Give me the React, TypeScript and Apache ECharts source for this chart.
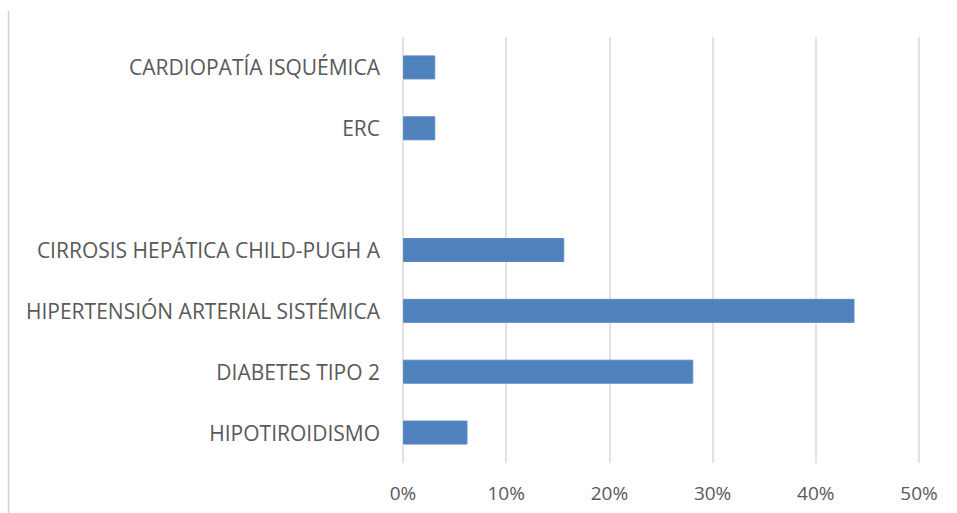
import React, { useEffect, useRef } from "react";
import * as echarts from "echarts";

// Comorbidities, listed bottom to top as the category axis stacks them
const categories = [
  "HIPOTIROIDISMO",
  "DIABETES TIPO 2",
  "HIPERTENSIÓN ARTERIAL SISTÉMICA",
  "CIRROSIS HEPÁTICA CHILD-PUGH A",
  "",
  "ERC",
  "CARDIOPATÍA ISQUÉMICA",
];

// Share of patients (%) per comorbidity; the blank row has no bar
const percentages: (number | null)[] = [6.25, 28.125, 43.75, 15.625, null, 3.125, 3.125];

const xTicks = { min: 0, max: 50, interval: 10 };

export default function App() {
  const ref = useRef<HTMLDivElement>(null);

  useEffect(() => {
    if (!ref.current) return;
    const chart = echarts.init(ref.current, undefined, { renderer: "svg" });
    const font = "'Open Sans', 'Liberation Sans', sans-serif";
    chart.setOption({
      animation: false,
      backgroundColor: "#ffffff",
      grid: { left: 403, right: 38, top: 37, bottom: 50, containLabel: false },
      xAxis: {
        type: "value",
        min: xTicks.min,
        max: xTicks.max,
        interval: xTicks.interval,
        axisLine: { show: false },
        axisTick: { show: false },
        splitLine: { show: true, lineStyle: { color: "#d9d9d9", width: 1.5 } },
        axisLabel: {
          formatter: (v: number) => `${v}%`,
          color: "#595959",
          fontFamily: font,
          fontSize: 19,
          margin: 20,
        },
      },
      yAxis: {
        type: "category",
        data: categories,
        axisLine: { show: false },
        axisTick: { show: false },
        axisLabel: {
          color: "#595959",
          fontFamily: font,
          fontSize: 21,
          margin: 23,
        },
      },
      series: [
        {
          type: "bar",
          data: percentages,
          barWidth: 24,
          itemStyle: { color: "#4f81bd", borderColor: "#5a8bc6", borderWidth: 1 },
        },
      ],
      graphic: [
        {
          type: "line",
          shape: { x1: 8.5, y1: 11, x2: 8.5, y2: 513 },
          style: { stroke: "#d0d0d0", lineWidth: 1.5 },
        },
      ],
    });
    return () => chart.dispose();
  }, []);

  return (
    <div
      ref={ref}
      style={{ position: "absolute", left: 0, top: 0, width: 957, height: 513 }}
    />
  );
}
